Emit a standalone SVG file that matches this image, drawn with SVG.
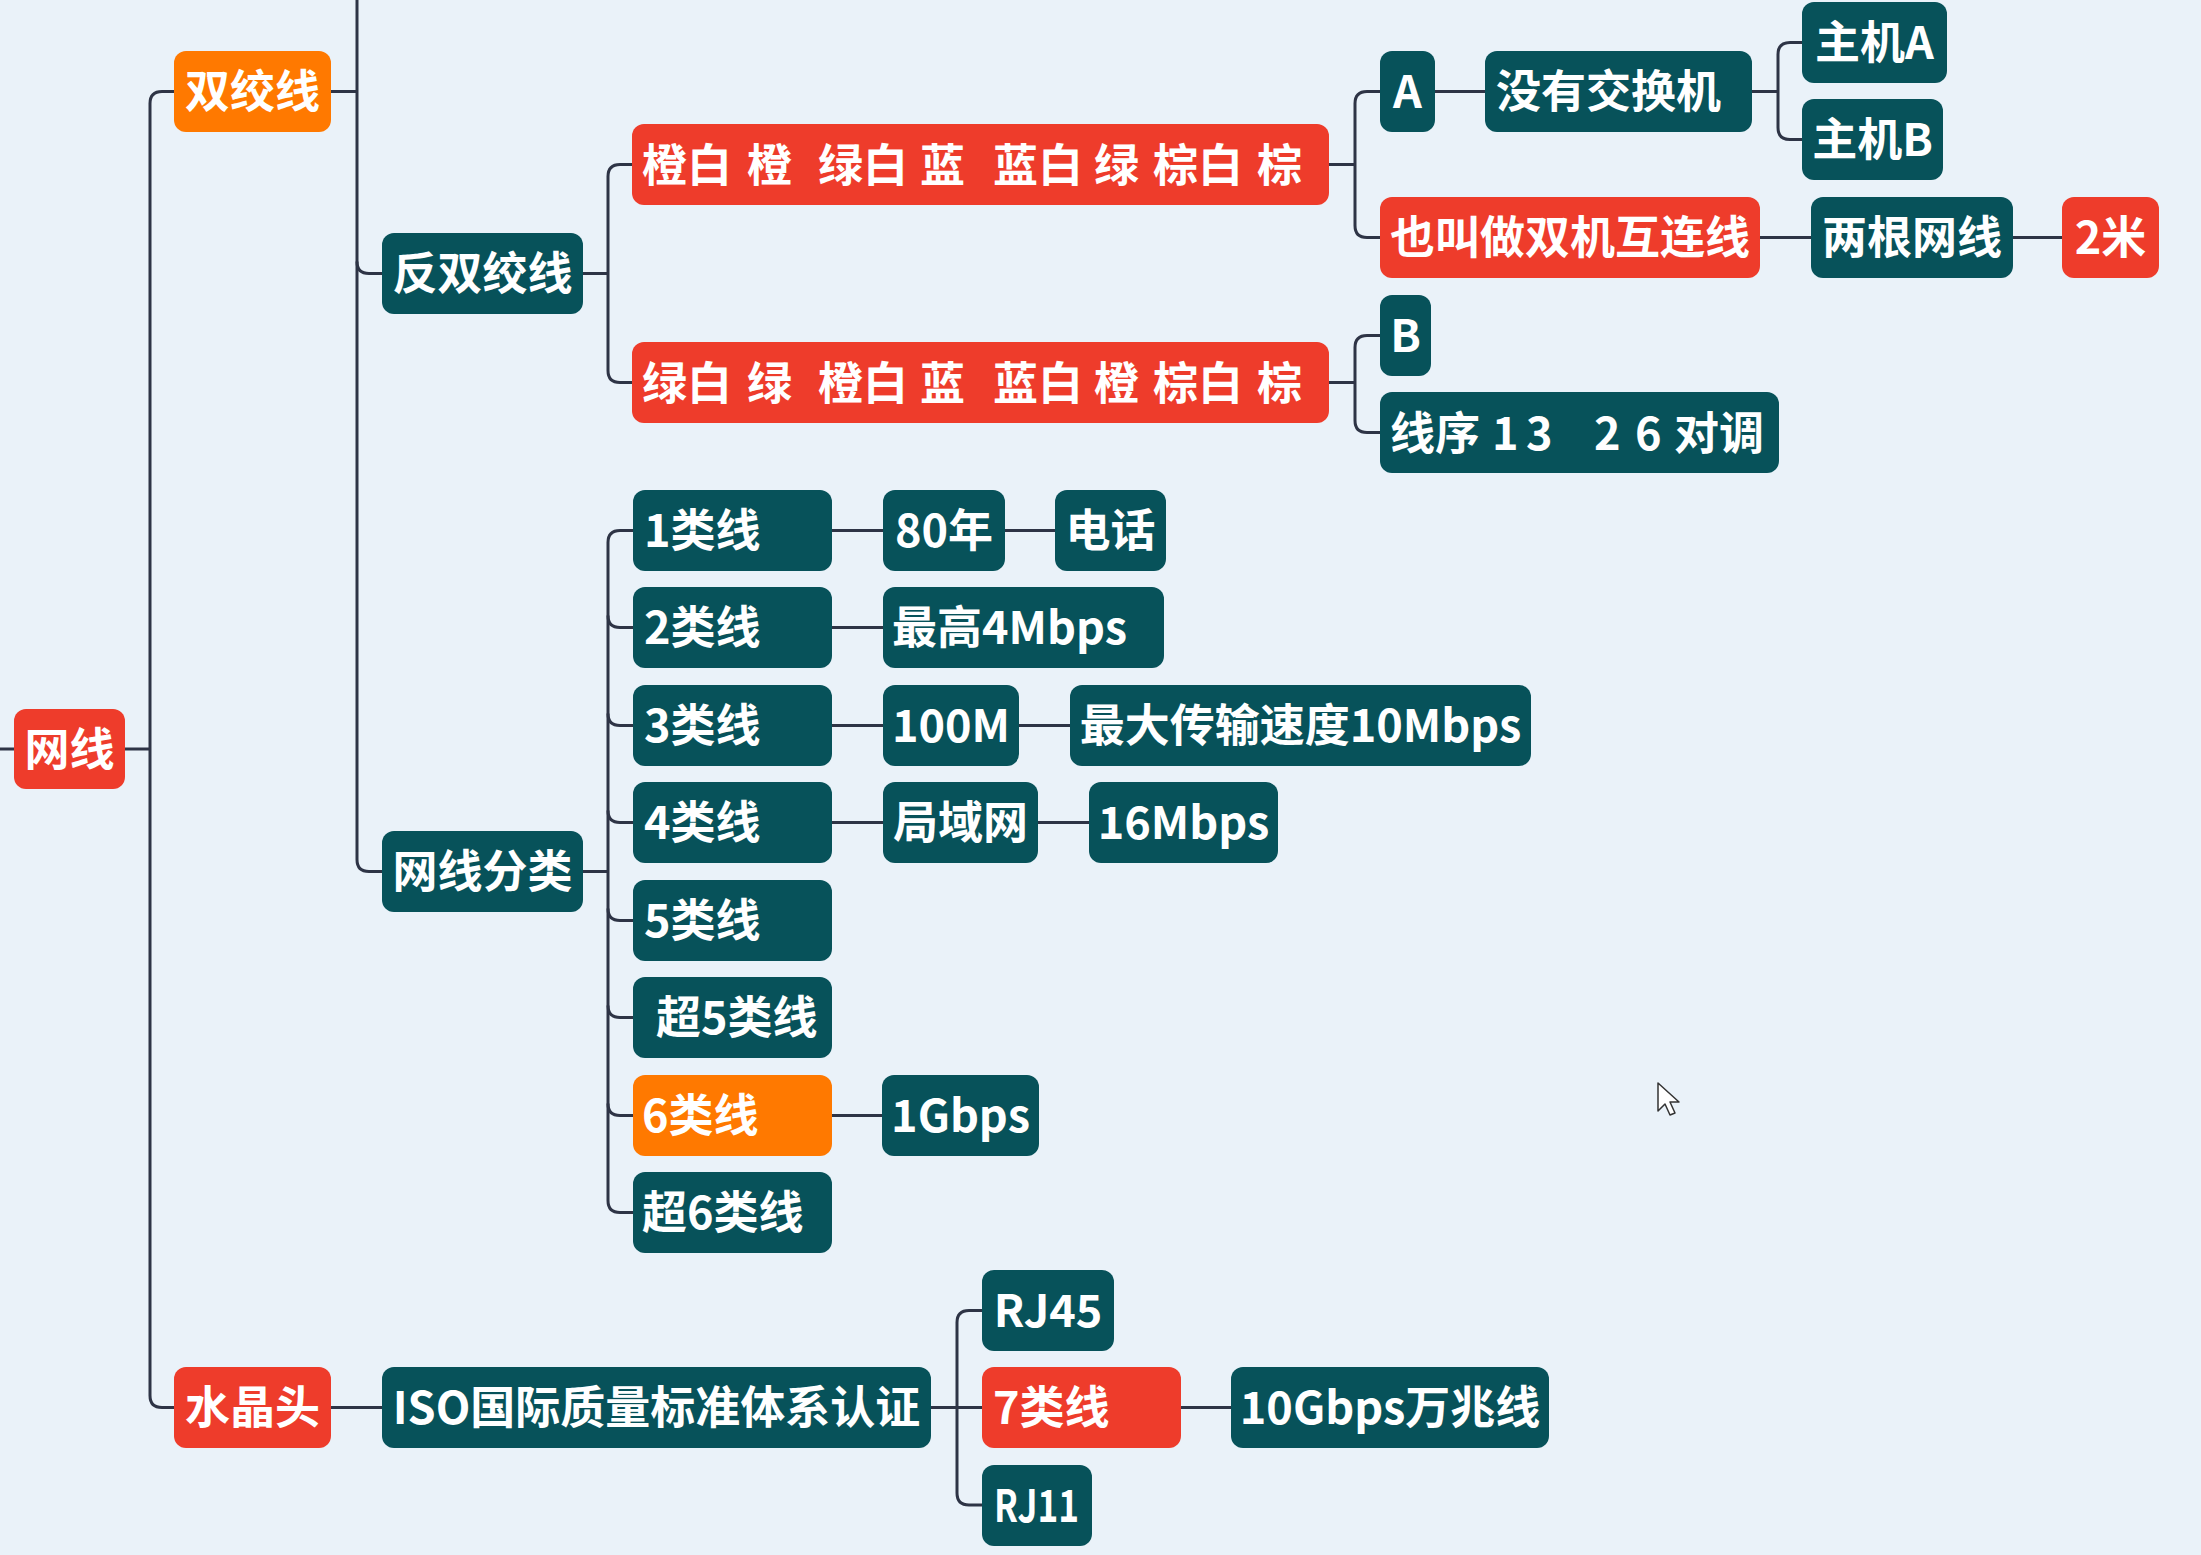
<svg xmlns="http://www.w3.org/2000/svg" width="2201" height="1555" viewBox="0 0 2201 1555">
<style>
.bg{fill:#EAF2F9}
.teal{fill:#07525A}
.red{fill:#EE3C2B}
.orange{fill:#FF7900}
.t{fill:#FFFFFF;font-family:"Noto Sans CJK SC","Noto Sans",sans-serif;font-weight:700;font-size:45px;dominant-baseline:central}
.m{text-anchor:middle}
.c{stroke:#2E3446;stroke-width:3;fill:none}
</style>
<rect class="bg" x="0" y="0" width="2201" height="1555"/>
<g id="connectors">
<path class="c" d="M0,749 H14"/>
<path class="c" d="M125,749 H150"/>
<path class="c" d="M174,91.5 H162 Q150,91.5 150,103.5 V1395.5 Q150,1407.5 162,1407.5 H174"/>
<path class="c" d="M331,91.5 H357"/>
<path class="c" d="M357,0 V859.5 Q357,871.5 369,871.5 H382"/>
<path class="c" d="M357,261.5 Q357,273.5 369,273.5 H382"/>
<path class="c" d="M583,273.5 H608"/>
<path class="c" d="M632,164.5 H620 Q608,164.5 608,176.5 V370.5 Q608,382.5 620,382.5 H632"/>
<path class="c" d="M1329,164.5 H1355"/>
<path class="c" d="M1380,91.5 H1367 Q1355,91.5 1355,103.5 V225.5 Q1355,237.5 1367,237.5 H1380"/>
<path class="c" d="M1329,382.5 H1355"/>
<path class="c" d="M1380,335.5 H1367 Q1355,335.5 1355,347.5 V420.5 Q1355,432.5 1367,432.5 H1380"/>
<path class="c" d="M1435,91.5 H1485"/>
<path class="c" d="M1752,91.5 H1778"/>
<path class="c" d="M1802,42.5 H1790 Q1778,42.5 1778,54.5 V127.5 Q1778,139.5 1790,139.5 H1802"/>
<path class="c" d="M1760,237.5 H1811"/>
<path class="c" d="M2013,237.5 H2062"/>
<path class="c" d="M583,871.5 H608"/>
<path class="c" d="M633,530.5 H620 Q608,530.5 608,542.5 V1200.5 Q608,1212.5 620,1212.5 H633"/>
<path class="c" d="M608,615.5 Q608,627.5 620,627.5 H633"/>
<path class="c" d="M608,713.5 Q608,725.5 620,725.5 H633"/>
<path class="c" d="M608,810.5 Q608,822.5 620,822.5 H633"/>
<path class="c" d="M608,908.5 Q608,920.5 620,920.5 H633"/>
<path class="c" d="M608,1005.5 Q608,1017.5 620,1017.5 H633"/>
<path class="c" d="M608,1103.5 Q608,1115.5 620,1115.5 H633"/>
<path class="c" d="M832,530.5 H883"/>
<path class="c" d="M1005,530.5 H1055"/>
<path class="c" d="M832,627.5 H883"/>
<path class="c" d="M832,725.5 H883"/>
<path class="c" d="M1019,725.5 H1070"/>
<path class="c" d="M832,822.5 H883"/>
<path class="c" d="M1038,822.5 H1089"/>
<path class="c" d="M832,1115.5 H882"/>
<path class="c" d="M331,1407.5 H382"/>
<path class="c" d="M931,1407.5 H982"/>
<path class="c" d="M982,1310.5 H969 Q957,1310.5 957,1322.5 V1493 Q957,1505 969,1505 H982"/>
<path class="c" d="M1181,1407.5 H1231"/>
</g>
<g id="n-wangxian"><rect class="red" x="14" y="709" width="111" height="80" rx="12"/><text class="t m" x="69.5" y="746">网线</text></g>
<g id="n-shuangjiaoxian"><rect class="orange" x="174" y="51" width="157" height="81" rx="12"/><text class="t m" x="252.5" y="88.5">双绞线</text></g>
<g id="n-fanshuangjiaoxian"><rect class="teal" x="382" y="233" width="201" height="81" rx="12"/><text class="t m" x="482.5" y="270.5">反双绞线</text></g>
<g id="n-seqA"><rect class="red" x="632" y="124" width="697" height="81" rx="12"/><text class="t" y="161.5"><tspan x="642">橙白</tspan><tspan x="747">橙</tspan><tspan x="818">绿白</tspan><tspan x="920">蓝</tspan><tspan x="993">蓝白</tspan><tspan x="1094">绿</tspan><tspan x="1153">棕白</tspan><tspan x="1257">棕</tspan></text></g>
<g id="n-seqB"><rect class="red" x="632" y="342" width="697" height="81" rx="12"/><text class="t" y="379.5"><tspan x="642">绿白</tspan><tspan x="747">绿</tspan><tspan x="818">橙白</tspan><tspan x="920">蓝</tspan><tspan x="993">蓝白</tspan><tspan x="1094">橙</tspan><tspan x="1153">棕白</tspan><tspan x="1257">棕</tspan></text></g>
<g id="n-A"><rect class="teal" x="1380" y="51" width="55" height="81" rx="12"/><text class="t m" x="1407.5" y="88.5">A</text></g>
<g id="n-noswitch"><rect class="teal" x="1485" y="51" width="267" height="81" rx="12"/><text class="t" x="1496" y="88.5">没有交换机</text></g>
<g id="n-hostA"><rect class="teal" x="1802" y="2" width="145" height="81" rx="12"/><text class="t m" x="1874.5" y="39.5">主机A</text></g>
<g id="n-hostB"><rect class="teal" x="1802" y="99" width="141" height="81" rx="12"/><text class="t m" x="1872.5" y="136.5">主机B</text></g>
<g id="n-crossover"><rect class="red" x="1380" y="197" width="380" height="81" rx="12"/><text class="t m" x="1570" y="234.5">也叫做双机互连线</text></g>
<g id="n-twocables"><rect class="teal" x="1811" y="197" width="202" height="81" rx="12"/><text class="t m" x="1912" y="234.5">两根网线</text></g>
<g id="n-2m"><rect class="red" x="2062" y="197" width="97" height="81" rx="12"/><text class="t m" x="2110.5" y="234.5">2米</text></g>
<g id="n-B"><rect class="teal" x="1380" y="295" width="51" height="81" rx="12"/><text class="t m" x="1405.5" y="332.5">B</text></g>
<g id="n-order"><rect class="teal" x="1380" y="392" width="399" height="81" rx="12"/><text class="t" y="429.5"><tspan x="1390">线序</tspan><tspan x="1492">1</tspan><tspan x="1526">3</tspan><tspan x="1594">2</tspan><tspan x="1635">6</tspan><tspan x="1674">对调</tspan></text></g>
<g id="n-classes"><rect class="teal" x="382" y="831" width="201" height="81" rx="12"/><text class="t m" x="482.5" y="868.5">网线分类</text></g>
<g id="n-cat1"><rect class="teal" x="633" y="490" width="199" height="81" rx="12"/><text class="t" x="644" y="527.5">1类线</text></g>
<g id="n-cat2"><rect class="teal" x="633" y="587" width="199" height="81" rx="12"/><text class="t" x="644" y="624.5">2类线</text></g>
<g id="n-cat3"><rect class="teal" x="633" y="685" width="199" height="81" rx="12"/><text class="t" x="644" y="722.5">3类线</text></g>
<g id="n-cat4"><rect class="teal" x="633" y="782" width="199" height="81" rx="12"/><text class="t" x="644" y="819.5">4类线</text></g>
<g id="n-cat5"><rect class="teal" x="633" y="880" width="199" height="81" rx="12"/><text class="t" x="644" y="917.5">5类线</text></g>
<g id="n-cat5e"><rect class="teal" x="633" y="977" width="199" height="81" rx="12"/><text class="t" x="656" y="1014.5">超5类线</text></g>
<g id="n-cat6"><rect class="orange" x="633" y="1075" width="199" height="81" rx="12"/><text class="t" x="642" y="1112.5">6类线</text></g>
<g id="n-cat6e"><rect class="teal" x="633" y="1172" width="199" height="81" rx="12"/><text class="t" x="642" y="1209.5">超6类线</text></g>
<g id="n-80s"><rect class="teal" x="883" y="490" width="122" height="81" rx="12"/><text class="t m" x="944" y="527.5">80年</text></g>
<g id="n-phone"><rect class="teal" x="1055" y="490" width="111" height="81" rx="12"/><text class="t m" x="1110.5" y="527.5">电话</text></g>
<g id="n-4mbps"><rect class="teal" x="883" y="587" width="281" height="81" rx="12"/><text class="t" x="892" y="624.5">最高4Mbps</text></g>
<g id="n-100m"><rect class="teal" x="883" y="685" width="136" height="81" rx="12"/><text class="t m" x="951" y="722.5">100M</text></g>
<g id="n-10mbps"><rect class="teal" x="1070" y="685" width="461" height="81" rx="12"/><text class="t m" x="1300.5" y="722.5">最大传输速度10Mbps</text></g>
<g id="n-lan"><rect class="teal" x="883" y="782" width="155" height="81" rx="12"/><text class="t m" x="960.5" y="819.5">局域网</text></g>
<g id="n-16mbps"><rect class="teal" x="1089" y="782" width="189" height="81" rx="12"/><text class="t m" x="1183.5" y="819.5">16Mbps</text></g>
<g id="n-1gbps"><rect class="teal" x="882" y="1075" width="157" height="81" rx="12"/><text class="t m" x="960.5" y="1112.5">1Gbps</text></g>
<g id="n-shuijingtou"><rect class="red" x="174" y="1367" width="157" height="81" rx="12"/><text class="t m" x="252.5" y="1404.5">水晶头</text></g>
<g id="n-iso"><rect class="teal" x="382" y="1367" width="549" height="81" rx="12"/><text class="t m" x="656.5" y="1404.5">ISO国际质量标准体系认证</text></g>
<g id="n-rj45"><rect class="teal" x="982" y="1270" width="132" height="81" rx="12"/><text class="t m" x="1048" y="1307.5">RJ45</text></g>
<g id="n-cat7"><rect class="red" x="982" y="1367" width="199" height="81" rx="12"/><text class="t" x="993" y="1404.5">7类线</text></g>
<g id="n-rj11"><rect class="teal" x="982" y="1465" width="110" height="81" rx="12"/><text class="t" x="994" y="1502.5" textLength="85" lengthAdjust="spacingAndGlyphs">RJ11</text></g>
<g id="n-10gbps"><rect class="teal" x="1231" y="1367" width="318" height="81" rx="12"/><text class="t m" x="1390" y="1404.5">10Gbps万兆线</text></g>
<g id="cursor"><path d="M1658,1083 L1658,1111 L1665,1104 L1670,1115 L1675,1113 L1670,1102 L1679,1102 Z" fill="#FFFFFF" stroke="#333333" stroke-width="1.5" stroke-linejoin="round"/></g>
</svg>
